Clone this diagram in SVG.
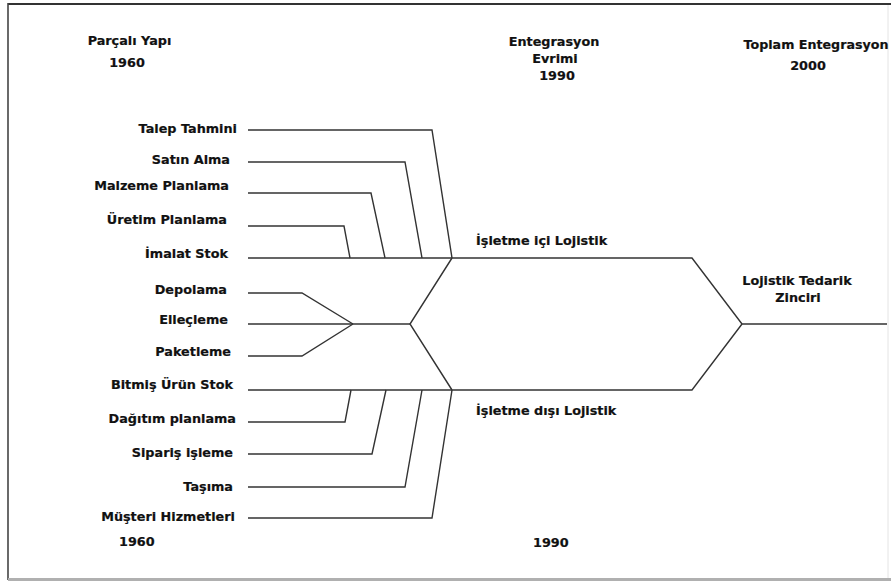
<svg xmlns="http://www.w3.org/2000/svg" width="891" height="582" viewBox="0 0 891 582">
  <style>
    .lbl { font-family: "DejaVu Sans", "Liberation Sans", sans-serif; font-weight: bold; font-size: 12.8px; fill: #111; stroke: #111; stroke-width: 0.2; }
    .r { text-anchor: end; }
    .c { text-anchor: middle; }
    .ln { fill: none; stroke: #333; stroke-width: 1.4; stroke-linejoin: miter; }
  </style>
  <rect x="0" y="0" width="891" height="582" fill="#ffffff"/>
  <!-- frame -->
  <g id="frame" fill="none">
    <line x1="8" y1="4" x2="891" y2="4" stroke="#333" stroke-width="2.2"/>
    <line x1="8" y1="3" x2="8" y2="580" stroke="#444" stroke-width="1.6"/>
    <line x1="8" y1="579.5" x2="891" y2="579.5" stroke="#b0b0b0" stroke-width="3"/>
    <line x1="888" y1="5" x2="888" y2="578" stroke="#e4e4e4" stroke-width="1"/>
  </g>

  <!-- era headings -->
  <g id="era-1960">
    <text class="lbl c" x="129.5" y="45">Parçalı Yapı</text>
    <text class="lbl c" x="127" y="67">1960</text>
  </g>
  <g id="era-1990">
    <text class="lbl c" x="554" y="46">Entegrasyon</text>
    <text class="lbl c" x="555" y="63">Evrimi</text>
    <text class="lbl c" x="557" y="80">1990</text>
  </g>
  <g id="era-2000">
    <text class="lbl c" x="816" y="49" textLength="145" lengthAdjust="spacingAndGlyphs">Toplam Entegrasyon</text>
    <text class="lbl c" x="808" y="70">2000</text>
  </g>

  <!-- connectors -->
  <g id="connectors" class="ln">
    <path d="M248,130 H432 L452,258"/>
    <path d="M248,162 H405 L422,258"/>
    <path d="M248,193 H371 L385,258"/>
    <path d="M248,226 H344 L350,258"/>
    <path d="M248,258 H692 L742,324 H887"/>
    <path d="M248,293 H302 L353,324"/>
    <path d="M248,324 H410"/>
    <path d="M248,356 H302 L353,324"/>
    <path d="M452,258 L410,324 L452,390"/>
    <path d="M248,390 H692 L742,324"/>
    <path d="M248,422 H345 L351,390"/>
    <path d="M248,454 H372 L386,390"/>
    <path d="M248,487 H405 L422,390"/>
    <path d="M248,518 H432 L452,390"/>
  </g>

  <!-- activity nodes -->
  <g id="talep-tahmini"><text class="lbl r" x="237" y="133">Talep Tahmini</text></g>
  <g id="satin-alma"><text class="lbl r" x="230" y="164">Satın Alma</text></g>
  <g id="malzeme-planlama"><text class="lbl r" x="229" y="190">Malzeme Planlama</text></g>
  <g id="uretim-planlama"><text class="lbl r" x="227" y="224">Üretim Planlama</text></g>
  <g id="imalat-stok"><text class="lbl r" x="228" y="258">İmalat Stok</text></g>
  <g id="depolama"><text class="lbl r" x="227" y="294">Depolama</text></g>
  <g id="ellecleme"><text class="lbl r" x="228" y="324">Elleçleme</text></g>
  <g id="paketleme"><text class="lbl r" x="231" y="356">Paketleme</text></g>
  <g id="bitmis-urun-stok"><text class="lbl r" x="233" y="389">Bitmiş Ürün Stok</text></g>
  <g id="dagitim-planlama"><text class="lbl r" x="236" y="423">Dağıtım planlama</text></g>
  <g id="siparis-isleme"><text class="lbl r" x="233" y="457">Sipariş işleme</text></g>
  <g id="tasima"><text class="lbl r" x="233" y="491">Taşıma</text></g>
  <g id="musteri-hizmetleri"><text class="lbl r" x="235" y="521">Müşteri Hizmetleri</text></g>

  <!-- merged stages -->
  <g id="isletme-ici"><text class="lbl" x="476" y="245">İşletme içi Lojistik</text></g>
  <g id="isletme-disi"><text class="lbl" x="476" y="415">İşletme dışı Lojistik</text></g>
  <g id="tedarik-zinciri">
    <text class="lbl c" x="797" y="285">Lojistik Tedarik</text>
    <text class="lbl c" x="798" y="302">Zinciri</text>
  </g>

  <!-- bottom years -->
  <g id="year-1960"><text class="lbl" x="119" y="546">1960</text></g>
  <g id="year-1990"><text class="lbl" x="533" y="547">1990</text></g>
</svg>
